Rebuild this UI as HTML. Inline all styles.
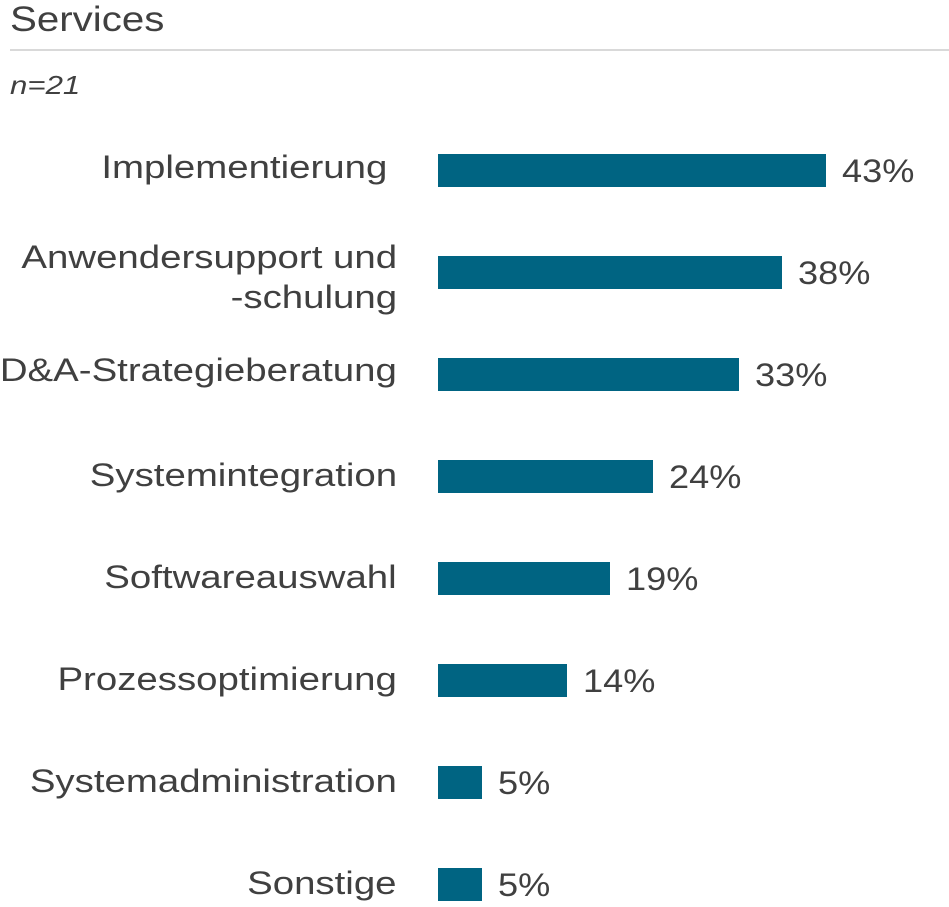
<!DOCTYPE html>
<html><head><meta charset="utf-8"><style>
body{margin:0;width:949px;height:907px;background:#fff;font-family:"Liberation Sans",sans-serif;color:#404040;position:relative;overflow:hidden}
.t{position:absolute;left:10px;top:0px;font-size:35px;color:#404040;transform:scaleX(1.15);transform-origin:left}
.hr{position:absolute;left:10px;right:0;top:49px;height:2px;background:#d9d9d9}
.n{position:absolute;left:10px;top:70px;font-size:26px;font-style:italic;transform:scaleX(1.2);transform-origin:left}
.l{position:absolute;right:552px;text-align:right;font-size:32px;line-height:40px;white-space:nowrap;transform:scaleX(1.2);transform-origin:right}
.b{position:absolute;left:438px;height:33px;background:#006482}
.v{position:absolute;font-size:32px;line-height:40px;transform:scaleX(1.13);transform-origin:left}
</style></head><body>
<div class="t">Services</div><div class="hr"></div><div class="n">n=21</div>

<div class="l" style="top:147px;right:562px">Implementierung</div>
<div class="b" style="top:154px;width:388px"></div><div class="v" style="top:151px;left:842px">43%</div>

<div class="l" style="top:237px">Anwendersupport und<br>-schulung</div>
<div class="b" style="top:256px;width:344px"></div><div class="v" style="top:253px;left:798px">38%</div>

<div class="l" style="top:350px">D&amp;A-Strategieberatung</div>
<div class="b" style="top:358px;width:301px"></div><div class="v" style="top:355px;left:755px">33%</div>

<div class="l" style="top:455px">Systemintegration</div>
<div class="b" style="top:460px;width:215px"></div><div class="v" style="top:457px;left:669px">24%</div>

<div class="l" style="top:557px">Softwareauswahl</div>
<div class="b" style="top:562px;width:172px"></div><div class="v" style="top:559px;left:626px">19%</div>

<div class="l" style="top:659px">Prozessoptimierung</div>
<div class="b" style="top:664px;width:129px"></div><div class="v" style="top:661px;left:583px">14%</div>

<div class="l" style="top:761px">Systemadministration</div>
<div class="b" style="top:766px;width:44px"></div><div class="v" style="top:763px;left:498px">5%</div>

<div class="l" style="top:863px">Sonstige</div>
<div class="b" style="top:868px;width:44px"></div><div class="v" style="top:865px;left:498px">5%</div>
</body></html>
